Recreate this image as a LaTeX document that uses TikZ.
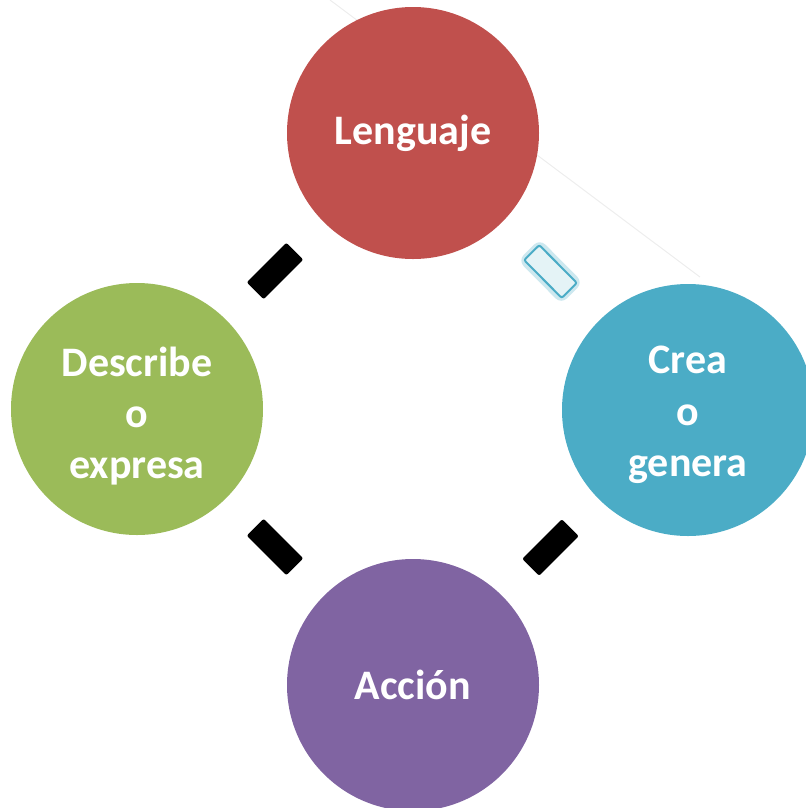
\documentclass[tikz,border=0pt]{standalone}
\usepackage{fontspec}
\setmainfont{Carlito}
\usetikzlibrary{calc}
\definecolor{cred}{HTML}{C0504D}
\definecolor{cgreen}{HTML}{9BBB59}
\definecolor{cteal}{HTML}{4BACC6}
\definecolor{cpurple}{HTML}{8064A2}
\begin{document}
\begin{tikzpicture}[x=0.75pt,y=-0.75pt,
  bubble/.style={circle, minimum size=189pt, inner sep=0pt, text=white, align=center,
    font=\fontsize{31.5}{38.5}\selectfont\bfseries},
  btext/.style={inner sep=0pt, text=white, align=center,
    font=\fontsize{31.5}{38.5}\selectfont\bfseries},
  link/.style={sloped, rectangle, rounded corners=1.5pt, minimum width=42pt, minimum height=18pt, inner sep=0pt},
  darklink/.style={link, fill=black},
  glowlink/.style={link, fill=cteal!55, opacity=0.5, minimum width=46pt, minimum height=23pt, rounded corners=6pt},
  lightlink/.style={link, fill=cteal!15, draw=cteal, line width=1.5pt, minimum width=40pt, minimum height=16pt},
  faint/.style={draw=black!7, line width=0.75pt}]
\useasboundingbox (0,0) rectangle (806,808);
\clip (0,0) rectangle (806,808);
\coordinate (f1) at (330,0);
\coordinate (f2) at (700,277);
\path[faint] (f1) -- (f2);
\node[bubble, fill=cred] (L) at (413,133) {Lenguaje};
\node[bubble, fill=cgreen] (D) at (137,409) {};
\node[btext] (Dt) at ($(D)+(0,7)$) {Describe\\o\\expresa};
\node[bubble, fill=cteal] (C) at (688,410) {};
\node[btext] (Ct) at ($(C)+(0,5)$) {Crea\\o\\genera};
\node[bubble, fill=cpurple] (A) at (413,685) {Acción};
\path (D) -- node[darklink] (k1) {} (L);
\path (L) -- node[glowlink] (k2g) {} (C);
\path (L) -- node[lightlink] (k2) {} (C);
\path (D) -- node[darklink] (k3) {} (A);
\path (A) -- node[darklink] (k4) {} (C);
\end{tikzpicture}
\end{document}
